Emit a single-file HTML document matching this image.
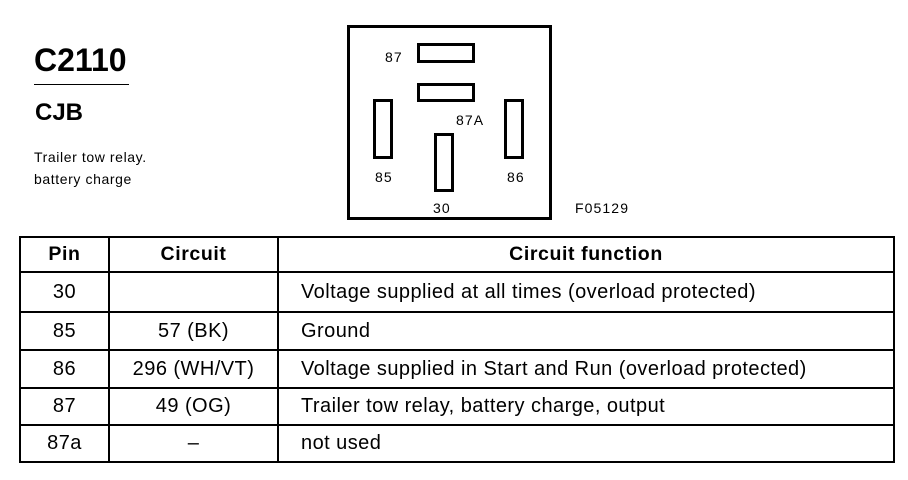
<!DOCTYPE html>
<html><head><meta charset="utf-8"><style>
body{margin:0;width:908px;height:480px;background:#fff;position:relative;font-family:"Liberation Sans",Arial,sans-serif;color:#000;overflow:hidden}
.a{position:absolute;white-space:nowrap}
.s{font-size:14px;letter-spacing:1.1px}
.r{position:absolute;border:3px solid #000;box-sizing:border-box}
table{position:absolute;left:19px;top:236px;border-collapse:collapse;font-size:20px;letter-spacing:0.45px;table-layout:fixed;width:874px}
td{border:2.5px solid #000;padding:0;box-sizing:border-box;white-space:nowrap;overflow:hidden}
td.c{text-align:center}
td.l{padding-left:22px}
th{border:2.5px solid #000;height:33px;font-size:19.5px;font-weight:bold;letter-spacing:0.6px;padding:0}
</style></head><body>
<div class="a" style="left:34px;top:42px;font-size:32px;font-weight:bold">C2110</div>
<div class="a" style="left:34px;top:84px;width:95px;height:1px;background:#000"></div>
<div class="a" style="left:35px;top:99px;font-size:24px;font-weight:bold">CJB</div>
<div class="a" style="left:34px;top:146px;font-size:14px;line-height:22px;letter-spacing:0.6px">Trailer tow relay.<br>battery charge</div>

<div class="r" style="left:347px;top:25px;width:205px;height:195px"></div>
<div class="r" style="left:417px;top:43px;width:58px;height:20px"></div>
<div class="r" style="left:417px;top:83px;width:58px;height:19px"></div>
<div class="r" style="left:373px;top:99px;width:20px;height:60px"></div>
<div class="r" style="left:434px;top:133px;width:20px;height:59px"></div>
<div class="r" style="left:504px;top:99px;width:20px;height:60px"></div>
<div class="a s" style="left:385px;top:49px">87</div>
<div class="a s" style="left:456px;top:112px">87A</div>
<div class="a s" style="left:375px;top:169px">85</div>
<div class="a s" style="left:507px;top:169px">86</div>
<div class="a s" style="left:433px;top:200px">30</div>
<div class="a s" style="left:575px;top:200px">F05129</div>

<table>
<colgroup><col style="width:89px"><col style="width:169px"><col style="width:616px"></colgroup>
<tr><th>Pin</th><th>Circuit</th><th>Circuit function</th></tr>
<tr><td class="c" style="height:40px">30</td><td></td><td class="l">Voltage supplied at all times (overload protected)</td></tr>
<tr><td class="c" style="height:38px">85</td><td class="c">57 (BK)</td><td class="l">Ground</td></tr>
<tr><td class="c" style="height:38px">86</td><td class="c">296 (WH/VT)</td><td class="l">Voltage supplied in Start and Run (overload protected)</td></tr>
<tr><td class="c" style="height:37px">87</td><td class="c">49 (OG)</td><td class="l">Trailer tow relay, battery charge, output</td></tr>
<tr><td class="c" style="height:37px">87a</td><td class="c">–</td><td class="l">not used</td></tr>
</table>
</body></html>
